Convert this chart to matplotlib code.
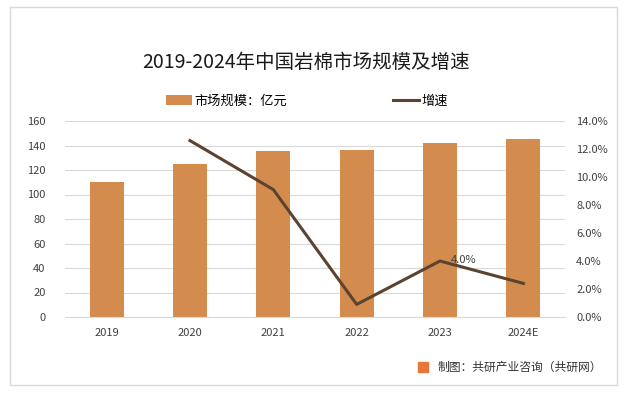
import matplotlib.pyplot as plt
import matplotlib.patches as mpatches
import numpy as np

plt.rcParams['font.family'] = ['Noto Sans CJK SC', 'DejaVu Sans']

years = ['2019', '2020', '2021', '2022', '2023', '2024E']
market_size = [110.4, 124.6, 135.5, 136.3, 142.0, 145.3]   # 亿元
growth_years = ['2020', '2021', '2022', '2023', '2024E']
growth = [12.6, 9.1, 0.9, 4.0, 2.4]   # %

bar_color = '#D38C4E'
line_color = '#5C4331'

fig = plt.figure(figsize=(6.38, 3.97), dpi=100)
fig.patches.append(mpatches.Rectangle((10 / 638, 1 - 385 / 397), 607 / 638, 378 / 397,
                                      transform=fig.transFigure, fill=False,
                                      edgecolor='#D9D9D9', lw=1))

ax = fig.add_axes([65 / 638, 1 - 317 / 397, 500 / 638, 196 / 397])
x = np.arange(len(years))
ax.bar(x, market_size, width=0.41, color=bar_color, label='市场规模：亿元', zorder=2)
ax.set_ylim(0, 160)
ax.set_yticks(range(0, 161, 20))
ax.set_xlim(-0.5, len(years) - 0.5)
ax.set_xticks(x)
ax.set_xticklabels(years)
ax.grid(axis='y', color='#D9D9D9', lw=0.8, zorder=0)
for s in ax.spines.values():
    s.set_visible(False)
ax.spines['bottom'].set_visible(True)
ax.spines['bottom'].set_color('#D9D9D9')
ax.tick_params(length=0, labelsize=8, colors='#404040', pad=8)
ax.tick_params(axis='y', pad=14)

ax2 = ax.twinx()
gx = [years.index(y) for y in growth_years]
ax2.plot(gx, growth, color=line_color, lw=2.2, label='增速', zorder=3)
ax2.set_ylim(0, 14)
ax2.set_yticks(np.arange(0, 14.1, 2))
ax2.set_yticklabels([f'{v:.1f}%' for v in np.arange(0, 14.1, 2)])
for s in ax2.spines.values():
    s.set_visible(False)
ax2.tick_params(length=0, labelsize=8, colors='#404040', pad=8)
i = growth_years.index('2023')
ax2.annotate(f'{growth[i]:.1f}%', (gx[i], growth[i]), xytext=(8, 0.5),
             textcoords='offset points', fontsize=8, color='#404040',
             ha='left', va='center')

fig.text(306 / 638, 1 - 62 / 397, '2019-2024年中国岩棉市场规模及增速', ha='center', va='center',
         fontsize=14, color='#1A1A1A')

h1, l1 = ax.get_legend_handles_labels()
h2, l2 = ax2.get_legend_handles_labels()
fig.legend(h1 + h2, l1 + l2, loc='center', bbox_to_anchor=(307 / 638, 1 - 101 / 397),
           ncol=2, frameon=False, fontsize=9.5, columnspacing=8,
           handlelength=2.0, handletextpad=0.2)

fig.patches.append(mpatches.Rectangle((418 / 638, 1 - 372 / 397), 10 / 638, 10 / 397,
                                      transform=fig.transFigure, color='#E8773A'))
fig.text(438 / 638, 1 - 367 / 397, '制图：共研产业咨询（共研网）', ha='left', va='center',
         fontsize=8.5, color='#333333')

fig.savefig('out.png', dpi=100)
